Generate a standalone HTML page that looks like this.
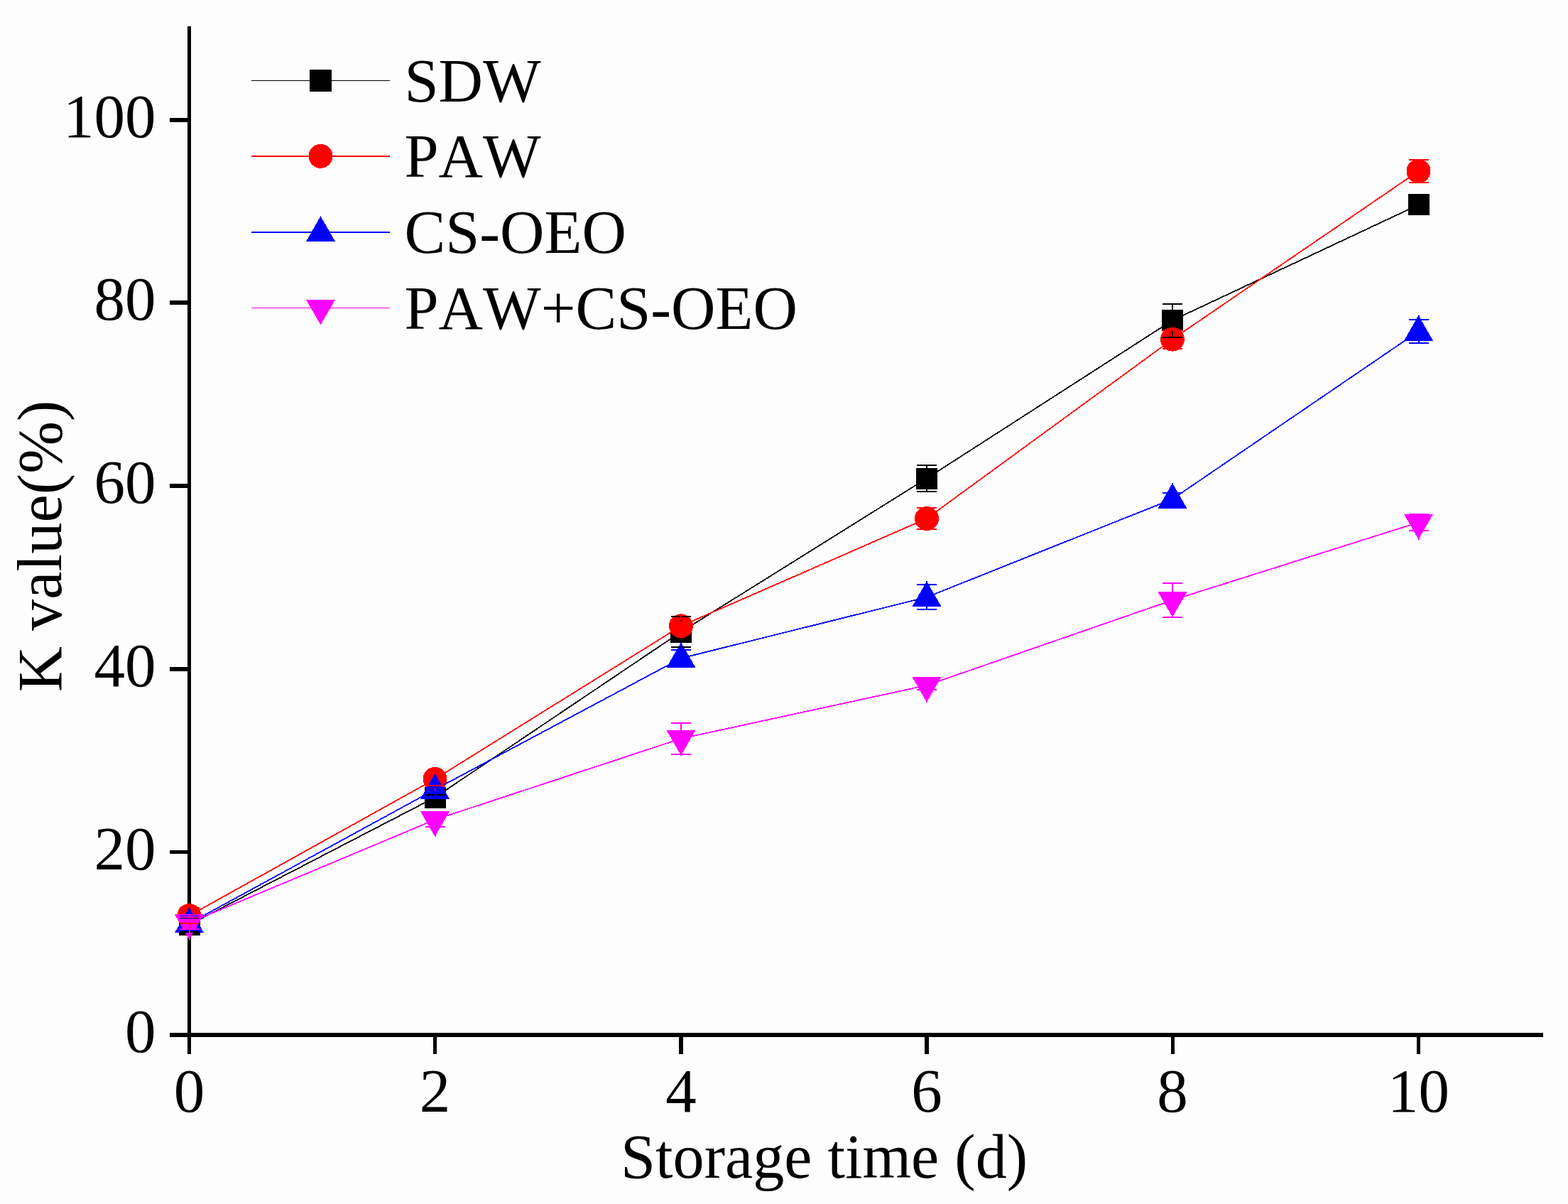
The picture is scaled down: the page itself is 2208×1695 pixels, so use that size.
<!DOCTYPE html>
<html><head><meta charset="utf-8"><title>K value chart</title>
<style>
html,body{margin:0;padding:0;background:#fdfdfd;}
body{width:2208px;height:1695px;overflow:hidden;}
svg{display:block;}
</style></head><body>
<svg width="2208" height="1695" viewBox="0 0 2208 1695" shape-rendering="crispEdges"><g fill="#000">
<rect x="264" y="37" width="5" height="1447"/>
<rect x="239" y="1454" width="1934" height="6"/>
<rect x="239" y="166" width="25" height="6"/>
<rect x="239" y="423" width="25" height="6"/>
<rect x="239" y="681" width="25" height="6"/>
<rect x="239" y="939" width="25" height="6"/>
<rect x="239" y="1197" width="25" height="5"/>
<rect x="610" y="1460" width="5" height="24"/>
<rect x="956" y="1460" width="6" height="24"/>
<rect x="1302" y="1460" width="6" height="24"/>
<rect x="1649" y="1460" width="5" height="24"/>
<rect x="1995" y="1460" width="5" height="24"/>
</g>
<polyline points="266.5,1301.9 612.5,1122.6 959.0,889.6 1305.0,673.5 1651.0,451.0 1997.5,288.4" fill="none" stroke="#000000" stroke-width="1.8"/>
<rect x="251.50" y="1286.90" width="30.0" height="30.0" fill="#000000"/>
<rect x="597.50" y="1107.60" width="30.0" height="30.0" fill="#000000"/>
<rect x="944.00" y="874.60" width="30.0" height="30.0" fill="#000000"/>
<rect x="1290.00" y="658.50" width="30.0" height="30.0" fill="#000000"/>
<rect x="1636.00" y="436.00" width="30.0" height="30.0" fill="#000000"/>
<rect x="1982.50" y="273.40" width="30.0" height="30.0" fill="#000000"/>
<polyline points="266.5,1289.1 612.5,1096.8 959.0,881.3 1305.0,730.0 1651.0,477.6 1997.5,240.9" fill="none" stroke="#ff0000" stroke-width="1.8"/>
<circle cx="266.50" cy="1289.10" r="17" fill="#ff0000"/>
<circle cx="612.50" cy="1096.80" r="17" fill="#ff0000"/>
<circle cx="959.00" cy="881.30" r="17" fill="#ff0000"/>
<circle cx="1305.00" cy="730.00" r="17" fill="#ff0000"/>
<circle cx="1651.00" cy="477.60" r="17" fill="#ff0000"/>
<circle cx="1997.50" cy="240.90" r="17" fill="#ff0000"/>
<polyline points="266.5,1300.0 612.5,1111.5 959.0,926.7 1305.0,840.7 1651.0,702.6 1997.5,466.5" fill="none" stroke="#0000ff" stroke-width="1.8"/>
<polygon points="266.50,1277.50 287.10,1313.30 245.90,1313.30" fill="#0000ff"/>
<polygon points="612.50,1089.00 633.10,1124.80 591.90,1124.80" fill="#0000ff"/>
<polygon points="959.00,904.20 979.60,940.00 938.40,940.00" fill="#0000ff"/>
<polygon points="1305.00,818.20 1325.60,854.00 1284.40,854.00" fill="#0000ff"/>
<polygon points="1651.00,680.10 1671.60,715.90 1630.40,715.90" fill="#0000ff"/>
<polygon points="1997.50,444.00 2018.10,479.80 1976.90,479.80" fill="#0000ff"/>
<polyline points="266.5,1299.0 612.5,1154.0 959.0,1039.8 1305.0,964.8 1651.0,844.9 1997.5,735.5" fill="none" stroke="#ff00ff" stroke-width="1.8"/>
<polygon points="245.90,1287.00 287.10,1287.00 266.50,1323.00" fill="#ff00ff"/>
<polygon points="591.90,1142.00 633.10,1142.00 612.50,1178.00" fill="#ff00ff"/>
<polygon points="938.40,1027.80 979.60,1027.80 959.00,1063.80" fill="#ff00ff"/>
<polygon points="1284.40,952.80 1325.60,952.80 1305.00,988.80" fill="#ff00ff"/>
<polygon points="1630.40,832.90 1671.60,832.90 1651.00,868.90" fill="#ff00ff"/>
<polygon points="1976.90,723.50 2018.10,723.50 1997.50,759.50" fill="#ff00ff"/>
<path d="M266.5,1286.9V1292.1M266.5,1316.9V1311.7M252.5,1292.1h28M252.5,1311.7h28M612.5,1107.6V1119.3M612.5,1137.6V1125.9M598.5,1119.3h28M598.5,1125.9h28M959.0,874.6V867.9M959.0,904.6V911.3M945.0,867.9h28M945.0,911.3h28M1305.0,658.5V655.4M1305.0,688.5V691.6M1291.0,655.4h28M1291.0,691.6h28M1651.0,436.0V427.5M1651.0,466.0V474.5M1637.0,427.5h28M1637.0,474.5h28M1997.5,273.4V282.4M1997.5,303.4V294.4M1983.5,282.4h28M1983.5,294.4h28" stroke="#000000" stroke-width="2" fill="none"/>
<path d="M266.5,1272.1V1277.8M266.5,1306.1V1300.4M252.5,1277.8h28M252.5,1300.4h28M612.5,1079.8V1088.1M612.5,1113.8V1105.5M598.5,1088.1h28M598.5,1105.5h28M959.0,864.3V872.0M959.0,898.3V890.6M945.0,872.0h28M945.0,890.6h28M1305.0,713.0V714.8M1305.0,747.0V745.2M1291.0,714.8h28M1291.0,745.2h28M1651.0,460.6V464.6M1651.0,494.6V490.6M1637.0,464.6h28M1637.0,490.6h28M1997.5,223.9V225.2M1997.5,257.9V256.6M1983.5,225.2h28M1983.5,256.6h28" stroke="#ff0000" stroke-width="2" fill="none"/>
<path d="M266.5,1277.5V1290.0M266.5,1313.3V1310.0M252.5,1290.0h28M252.5,1310.0h28M612.5,1089.0V1109.0M612.5,1124.8V1114.0M598.5,1109.0h28M598.5,1114.0h28M959.0,904.2V914.6M959.0,940.0V938.8M945.0,914.6h28M945.0,938.8h28M1305.0,818.2V823.4M1305.0,854.0V858.1M1291.0,823.4h28M1291.0,858.1h28M1651.0,680.1V694.3M1651.0,715.9V710.9M1637.0,694.3h28M1637.0,710.9h28M1997.5,444.0V450.0M1997.5,479.8V483.0M1983.5,450.0h28M1983.5,483.0h28" stroke="#0000ff" stroke-width="2" fill="none"/>
<path d="M266.5,1287.0V1290.5M266.5,1323.0V1307.5M252.5,1290.5h28M252.5,1307.5h28M612.5,1142.0V1144.5M612.5,1178.0V1163.5M598.5,1144.5h28M598.5,1163.5h28M959.0,1027.8V1018.1M959.0,1063.8V1061.5M945.0,1018.1h28M945.0,1061.5h28M1305.0,952.8V958.6M1305.0,988.8V971.0M1291.0,958.6h28M1291.0,971.0h28M1651.0,832.9V821.0M1651.0,868.9V868.8M1637.0,821.0h28M1637.0,868.8h28M1997.5,723.5V724.0M1997.5,759.5V747.0M1983.5,724.0h28M1983.5,747.0h28" stroke="#ff00ff" stroke-width="2" fill="none"/>
<line x1="354" y1="113.5" x2="549" y2="113.5" stroke="#000000" stroke-width="1.2"/>
<rect x="436.00" y="97.80" width="31.0" height="31.0" fill="#000000"/>
<line x1="354" y1="220" x2="549" y2="220" stroke="#ff0000" stroke-width="2"/>
<circle cx="451.50" cy="219.80" r="17" fill="#ff0000"/>
<line x1="354" y1="327" x2="549" y2="327" stroke="#0000ff" stroke-width="2"/>
<polygon points="451.50,304.30 472.10,340.10 430.90,340.10" fill="#0000ff"/>
<line x1="354" y1="433.5" x2="549" y2="433.5" stroke="#ff00ff" stroke-width="1.2"/>
<polygon points="430.90,421.50 472.10,421.50 451.50,457.50" fill="#ff00ff"/><g font-family="Liberation Serif, Times New Roman, serif" fill="#000" style="font-kerning:none;font-feature-settings:'kern' 0"><text x="219.4" y="193.0" text-anchor="end" font-size="87">100</text>
<text x="219.4" y="450.0" text-anchor="end" font-size="87">80</text>
<text x="219.4" y="708.0" text-anchor="end" font-size="87">60</text>
<text x="219.4" y="966.0" text-anchor="end" font-size="87">40</text>
<text x="219.4" y="1223.5" text-anchor="end" font-size="87">20</text>
<text x="219.4" y="1481.0" text-anchor="end" font-size="87">0</text>
<text x="266.5" y="1565" text-anchor="middle" font-size="87">0</text>
<text x="612.5" y="1565" text-anchor="middle" font-size="87">2</text>
<text x="959.0" y="1565" text-anchor="middle" font-size="87">4</text>
<text x="1305.0" y="1565" text-anchor="middle" font-size="87">6</text>
<text x="1651.0" y="1565" text-anchor="middle" font-size="87">8</text>
<text x="1997.5" y="1565" text-anchor="middle" font-size="87">10</text>
<text x="569.5" y="142.5" font-size="86.5">SDW</text>
<text x="569.5" y="249.0" font-size="86.5">PAW</text>
<text x="569.5" y="356.0" font-size="86.5">CS-OEO</text>
<text x="569.5" y="462.7" font-size="86.5">PAW+CS-OEO</text>
<text x="1160.6" y="1658" text-anchor="middle" font-size="88.2">Storage time (d)</text>
<text transform="translate(86.3,768.8) rotate(-90)" text-anchor="middle" font-size="88.5">K value(%)</text></g></svg>
</body></html>
